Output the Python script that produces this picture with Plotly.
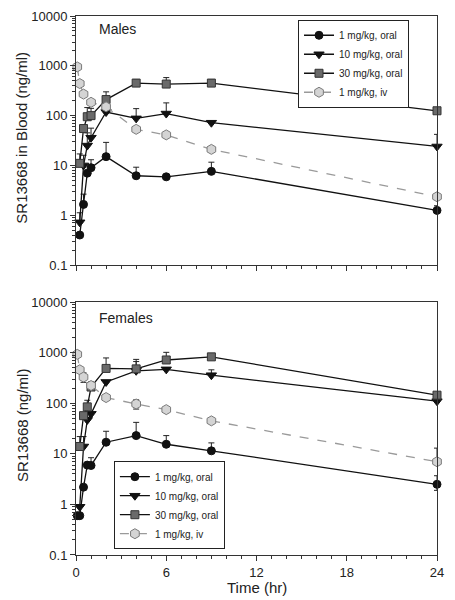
import plotly.graph_objects as go

# ---------------- data ----------------
series_names = ["1 mg/kg, oral", "10 mg/kg, oral", "30 mg/kg, oral", "1 mg/kg, iv"]

t_oral = [0.25, 0.5, 0.75, 1, 2, 4, 6, 9, 24]
t_iv = [0.083, 0.25, 0.5, 1, 2, 4, 6, 9, 24]
t_f_oral1 = [0.083, 0.25, 0.5, 0.75, 1, 2, 4, 6, 9, 24]

# Males
m_oral1 = [0.4, 1.65, 7, 9, 15, 6.2, 5.9, 7.6, 1.25]
m_oral1_sd = [0, 1.0, 0, 4, 14, 3, 0, 4, 0.3]
m_oral10 = [0.72, 10, 25, 36, 118, 88, 110, 72, 24]
m_oral10_sd = [0.4, 6, 20, 20, 0, 50, 70, 0, 18]
m_oral30 = [11, 55, 95, 100, 210, 450, 430, 450, 125]
m_oral30_sd = [6, 0, 50, 40, 90, 80, 150, 80, 0]
m_iv1 = [950, 440, 270, 185, 150, 53, 41, 21, 2.35]
m_iv1_sd = [0, 0, 0, 0, 0, 0, 0, 0, 0]

# Females
f_oral1 = [0.6, 0.6, 2.2, 6, 5.9, 17, 23, 15.5, 11.5, 2.5]
f_oral1_sd = [0, 0, 0, 0, 2.5, 11, 19, 7.5, 5, 1.2]
f_oral1_sdlo = [0, 0, 0, 0, 0, 0, 0, 0, 0, 0.6]
f_oral10 = [0.9, 14, 47, 62, 265, 440, 470, 360, 110]
f_oral10_sd = [0, 8, 40, 0, 0, 230, 0, 100, 0]
f_oral30 = [14, 57, 85, 210, 490, 480, 720, 830, 145]
f_oral30_sd = [8, 0, 30, 0, 300, 260, 300, 0, 0]
f_iv1 = [930, 460, 330, 225, 130, 97, 75, 45, 7]
f_iv1_sd = [0, 0, 70, 40, 0, 20, 0, 5, 6]
f_iv1_sdlo = [0, 0, 70, 0, 0, 20, 0, 5, 0]

y_tickvals = [0.1, 1, 10, 100, 1000, 10000]
y_ticktext = ["0.1", "1", "10", "100", "1000", "10000"]
x_tickvals = [0, 6, 12, 18, 24]
x_ticktext = ["0", "6", "12", "18", "24"]

# ---------------- styles ----------------
FONT = "Liberation Sans, Arial, Helvetica, sans-serif"
styles = [
    dict(symbol="circle", size=8, color="#111111", lc="#111111", line_color="#111111", dash="solid"),
    dict(symbol="triangle-down", size=9, color="#111111", lc="#111111", line_color="#111111", dash="solid"),
    dict(symbol="square", size=8, color="#6a6a6a", lc="#333333", line_color="#111111", dash="solid"),
    dict(symbol="hexagon", size=10, color="#d4d4d4", lc="#7a7a7a", line_color="#9a9a9a", dash="dash"),
]

fig = go.Figure()


def add(x, y, sd, st, name, xa, ya, legend, sdlo=None):
    err = dict(type="data", array=sd, symmetric=False,
               arrayminus=sdlo if sdlo is not None else [0] * len(sd),
               color="#222222", thickness=1, width=3)
    fig.add_trace(go.Scatter(
        x=x, y=y, name=name, mode="lines+markers", xaxis=xa, yaxis=ya,
        legend=legend, cliponaxis=False,
        line=dict(color=st["line_color"], width=1.3, dash=st["dash"]),
        marker=dict(symbol=st["symbol"], size=st["size"], color=st["color"],
                    line=dict(color=st["lc"], width=1)),
        error_y=err,
    ))


male = [(t_oral, m_oral1, m_oral1_sd, None), (t_oral, m_oral10, m_oral10_sd, None),
        (t_oral, m_oral30, m_oral30_sd, None), (t_iv, m_iv1, m_iv1_sd, None)]
female = [(t_f_oral1, f_oral1, f_oral1_sd, f_oral1_sdlo), (t_oral, f_oral10, f_oral10_sd, None),
          (t_oral, f_oral30, f_oral30_sd, None), (t_iv, f_iv1, f_iv1_sd, f_iv1_sdlo)]

for (x, y, sd, lo), st, nm in zip(male, styles, series_names):
    add(x, y, sd, st, nm, "x", "y", "legend", lo)
for (x, y, sd, lo), st, nm in zip(female, styles, series_names):
    add(x, y, sd, st, nm, "x2", "y2", "legend2", lo)

minor_y = [m * 10 ** e for e in range(-1, 4) for m in range(2, 10)]
minor_x = [h for h in range(0, 25) if h % 6 != 0]

AX = "#333333"
common_x = dict(range=[0, 24], showgrid=False, zeroline=False, showline=True, linecolor=AX,
                linewidth=1, mirror=True, ticks="outside", ticklen=5, tickcolor=AX,
                tickmode="array", tickvals=x_tickvals, ticktext=x_ticktext,
                ticklabeloverflow="allow",
                minor=dict(tickmode="array", tickvals=minor_x, ticks="outside", ticklen=3, tickcolor=AX),
                tickfont=dict(family=FONT, size=13, color="#222"))
common_y = dict(type="log", range=[-1, 4], showgrid=False, zeroline=False, showline=True,
                linecolor=AX, linewidth=1, mirror=True, ticks="outside", ticklen=5,
                tickcolor=AX, tickmode="array", tickvals=y_tickvals, ticktext=y_ticktext,
                ticklabeloverflow="allow",
                minor=dict(tickmode="array", tickvals=minor_y, ticks="outside", ticklen=3, tickcolor=AX),
                tickfont=dict(family=FONT, size=13, color="#222"))

legend_style = dict(bgcolor="white", bordercolor="#222", borderwidth=1,
                    font=dict(family=FONT, size=10, color="#222"),
                    xanchor="left", yanchor="top", tracegroupgap=0, itemwidth=30)

fig.update_layout(
    width=455, height=600,
    margin=dict(l=68, r=26, t=8, b=53, autoexpand=False),
    paper_bgcolor="white", plot_bgcolor="white",
    font=dict(family=FONT, color="#222"),
    xaxis=dict(common_x, domain=[0, 1], anchor="y", showticklabels=False),
    yaxis=dict(common_y, domain=[0.538, 1], anchor="x"),
    xaxis2=dict(common_x, domain=[0, 1], anchor="y2", showticklabels=True),
    yaxis2=dict(common_y, domain=[0, 0.469], anchor="x2"),
    legend=dict(legend_style, x=0.615, y=0.993),
    legend2=dict(legend_style, x=0.105, y=0.174),
    showlegend=True,
    annotations=[
        dict(text="Males", xref="paper", yref="paper", x=0.058, y=0.976, xanchor="left",
             yanchor="middle", showarrow=False, font=dict(family=FONT, size=14, color="#222")),
        dict(text="Females", xref="paper", yref="paper", x=0.058, y=0.4397, xanchor="left",
             yanchor="middle", showarrow=False, font=dict(family=FONT, size=14, color="#222")),
        dict(text="SR13668 in Blood (ng/ml)", xref="paper", yref="paper", x=-0.15, y=0.774,
             textangle=-90, xanchor="center", yanchor="middle", showarrow=False,
             font=dict(family=FONT, size=15, color="#222")),
        dict(text="SR13668 (ng/ml)", xref="paper", yref="paper", x=-0.15, y=0.241,
             textangle=-90, xanchor="center", yanchor="middle", showarrow=False,
             font=dict(family=FONT, size=15, color="#222")),
        dict(text="Time (hr)", xref="paper", yref="paper", x=0.5, y=-0.0594,
             xanchor="center", yanchor="middle", showarrow=False,
             font=dict(family=FONT, size=15, color="#222")),
    ],
)

fig.write_html("out.html")
